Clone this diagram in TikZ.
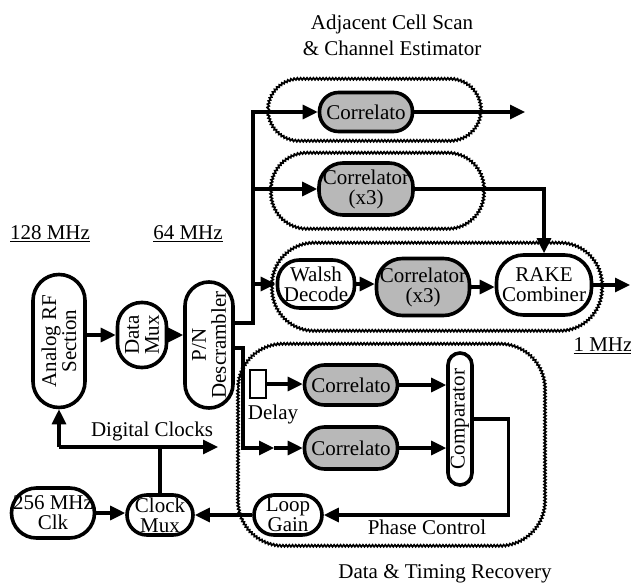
\documentclass[tikz,border=0pt]{standalone}
\usepackage{fontspec}
\setmainfont{Liberation Serif}
\usetikzlibrary{arrows.meta,decorations.pathmorphing}

\begin{document}
\begin{tikzpicture}[x=1pt, y=-1pt,
    every node/.style={font=\fontsize{21}{20}\selectfont},
    blk/.style={draw, line width=3.6pt, inner sep=0pt, align=center, fill=white},
    corr/.style={blk, fill=black!28},
    wire/.style={line width=3.1pt},
    arr/.style={wire, -{Triangle[length=15pt,width=14pt]}},
    grp/.style={rounded corners=#1, postaction={draw, line width=1.7pt, sharp corners,
        decorate, decoration={snake, segment length=3.2pt, amplitude=1pt}}}]
    \useasboundingbox (0,0) rectangle (631,586);

    % groups
    \path[grp=31pt] (270,80) rectangle (483,142);
    \path[grp=36pt] (271,152) rectangle (484,228);
    \path[grp=42pt] (272,242) rectangle (602,330);
    \path[grp=45pt] (238,343) rectangle (545,545);

    % titles
    \node (tadj) at (392,24) {Adjacent Cell Scan};
    \node (tchan) at (392,48) {\& Channel Estimator};
    \node (f128) at (50,234) {\underline{128 MHz}};
    \node (f64) at (188,234) {\underline{64 MHz}};
    \node (f1) at (603,346) {\underline{1 MHz}};
    \node (tdclk) at (152,431) {Digital Clocks};
    \node (tdelay) at (273,414) {Delay};
    \node (tphase) at (427,527) {Phase Control};
    \node (tdtr) at (445,574) {Data \& Timing Recovery};

    % front end
    \node[blk, minimum width=52pt, minimum height=133pt, rounded corners=26pt] (rf) at (59,341) {};
    \node[rotate=90, align=center] (rftxt) at (rf) {Analog RF\\Section};
    \node[blk, minimum width=49pt, minimum height=65pt, rounded corners=24pt] (dmux) at (142,335) {};
    \node[rotate=90, align=center] (dmuxtxt) at (dmux) {Data\\Mux};
    \node[blk, minimum width=48pt, minimum height=126pt, rounded corners=24pt] (pn) at (209,345) {};
    \node[rotate=90, align=center] (pntxt) at (pn) {P/N\\Descrambler};

    % channel estimator
    \node[corr, minimum width=93pt, minimum height=39pt, rounded corners=19pt] (cadj) at (366,112) {Correlato};
    \node[corr, minimum width=94pt, minimum height=52pt, rounded corners=24pt] (cchan) at (366,189) {Correlator\\(x3)};
    \node[blk, minimum width=77pt, minimum height=48pt, rounded corners=22pt] (walsh) at (316,284) {Walsh\\Decode};
    \node[corr, minimum width=93pt, minimum height=57pt, rounded corners=26pt] (cdata) at (423,287) {Correlator\\(x3)};
    \node[blk, minimum width=95pt, minimum height=60pt, rounded corners=27pt] (rake) at (544,285) {RAKE\\Combiner};

    % timing recovery
    \node[draw, line width=2.6pt, minimum width=16pt, minimum height=28pt, inner sep=0pt] (delay) at (258,384) {};
    \node[corr, minimum width=93pt, minimum height=40pt, rounded corners=20pt] (cearly) at (351,385) {Correlato};
    \node[corr, minimum width=93pt, minimum height=42pt, rounded corners=20pt] (clate) at (351,448) {Correlato};
    \node[blk, minimum width=24pt, minimum height=132pt, rounded corners=12pt] (comp) at (460,419) {};
    \node[rotate=90] (comptxt) at (comp) {Comparator};
    \node[blk, minimum width=68pt, minimum height=40pt, rounded corners=20pt] (lgain) at (288,515) {Loop\\Gain};

    % clocks
    \node[blk, minimum width=83pt, minimum height=50pt, rounded corners=25pt] (clk) at (53,513) {256 MHz\\Clk};
    \node[blk, minimum width=66pt, minimum height=40pt, rounded corners=20pt] (cmux) at (160,515) {Clock\\Mux};

    \coordinate (bus) at (253,323);
    \coordinate (split) at (243,348);
    \coordinate (mid) at (274,448);
    \coordinate (out1) at (525,112);
    \coordinate (out3) at (630,285);
    \coordinate (dclk) at (59,447);
    \coordinate (dcout) at (218,447);

    % connectors
    \draw[arr] (dmux.west -| rf.east) -- (dmux.west);
    \draw[arr] (dmux.east) -- (dmux.east -| pn.west);
    \draw[arr] (pn.east |- bus) -- (bus) |- (cadj.west);
    \draw[arr] (bus |- cchan.west) -- (cchan.west);
    \draw[arr] (bus |- walsh.west) -- (walsh.west);
    \draw[arr] (cadj.east) -- (out1);
    \draw[arr] (cchan.east) -| (rake.north);
    \draw[arr] (walsh.east) -- (walsh.east -| cdata.west);
    \draw[arr] (cdata.east) -- (cdata.east -| rake.west);
    \draw[arr] (rake.east) -- (out3);
    \draw[arr] (pn.east |- split) -- (split) |- (mid);
    \draw[arr] (mid) -- (clate.west);
    \draw[arr] (delay.east) -- (delay.east -| cearly.west);
    \draw[arr] (cearly.east) -- (cearly.east -| comp.west);
    \draw[arr] (clate.east) -- (clate.east -| comp.west);
    \draw[arr] (comp.east) -- ++(35,0) |- (lgain.east);
    \draw[arr] (lgain.west) -- (cmux.east);
    \draw[arr] (clk.east) -- (clk.east -| cmux.west);
    \draw[wire] (cmux.north) -- (cmux.north |- dclk);
    \draw[arr] (dclk) -- (dcout);
    \draw[arr] (dclk) -- (rf.south);
\end{tikzpicture}
\end{document}
